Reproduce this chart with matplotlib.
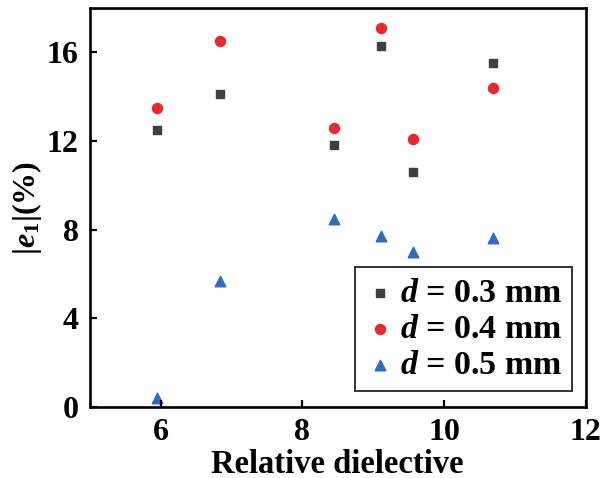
import matplotlib
matplotlib.use("Agg")
import matplotlib.pyplot as plt

plt.rcParams['font.family'] = ['Liberation Serif', 'DejaVu Serif']
plt.rcParams['font.weight'] = 'bold'
plt.rcParams['mathtext.fontset'] = 'custom'
plt.rcParams['mathtext.rm'] = 'Liberation Serif:bold'
plt.rcParams['mathtext.it'] = 'Liberation Serif:bold:italic'
plt.rcParams['mathtext.bf'] = 'Liberation Serif:bold'

# data
x = [5.95, 6.84, 8.44, 9.11, 9.56, 10.69]
e_03 = [12.5, 14.1, 11.8, 16.3, 10.6, 15.5]
e_04 = [13.5, 16.5, 12.6, 17.1, 12.1, 14.4]
e_05 = [0.4, 5.7, 8.5, 7.7, 7.0, 7.6]
labels = [r'$d$ = 0.3 mm', r'$d$ = 0.4 mm', r'$d$ = 0.5 mm']

fig = plt.figure(figsize=(6.07, 4.78), dpi=100)
ax = fig.add_axes([0.148, 0.1485, 0.817, 0.835])

ax.scatter(x, e_03, marker='s', s=34, color='#3f3f3f', label=labels[0])
ax.scatter(x, e_04, marker='o', s=52, color='#e8282b', label=labels[1])
ax.scatter(x, e_05, marker='^', s=58, color='#2b6cc4', label=labels[2])

ax.set_xlim(5, 12)
ax.set_ylim(0, 18)
ax.set_xticks([6, 8, 10, 12])
ax.set_yticks([0, 4, 8, 12, 16])
ax.tick_params(direction='in', length=5, width=1.6, labelsize=23, pad=8)
for sp in ax.spines.values():
    sp.set_linewidth(1.9)

ax.set_xlabel('Relative dielective', fontsize=23.5, fontweight='bold', labelpad=1)
ax.set_ylabel(r'$|e_1|$(%)', fontsize=23, fontweight='bold', labelpad=2)

leg = ax.legend(loc='lower right', bbox_to_anchor=(0.973, 0.04), borderaxespad=0,
                fontsize=24.5, frameon=True, fancybox=False, edgecolor='black',
                handlelength=0.85, handletextpad=0.15, borderpad=0.3, labelspacing=0.15)
leg.get_frame().set_linewidth(1.4)

fig.savefig('out.png', dpi=100)
